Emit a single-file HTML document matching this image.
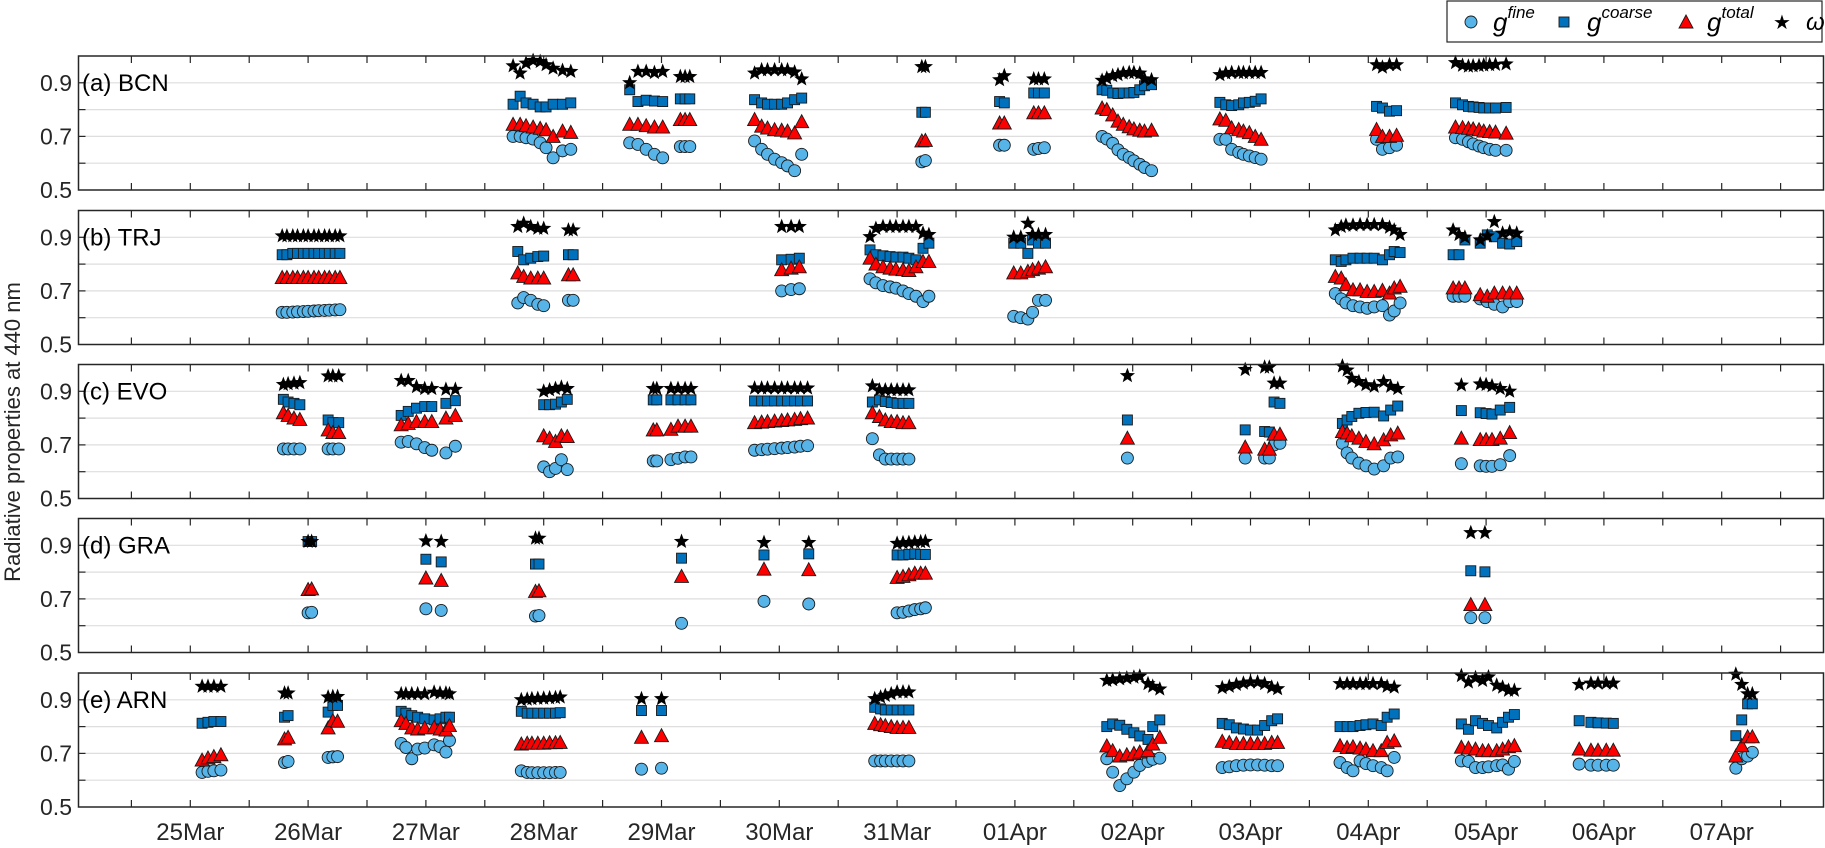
<!DOCTYPE html>
<html><head><meta charset="utf-8"><style>
html,body{margin:0;padding:0;background:#fff;}
svg{display:block;font-family:"Liberation Sans",Arial,sans-serif;}
</style></head><body>
<svg id="chart" width="1825" height="848" viewBox="0 0 1825 848" xmlns="http://www.w3.org/2000/svg">
<text transform="translate(20,432) rotate(-90)" text-anchor="middle" font-size="22" fill="#262626">Radiative properties at 440 nm</text>
<g id="legend">
<rect x="1447" y="1" width="375" height="41" fill="#fff" stroke="#262626" stroke-width="1.2"/>
<g>
<circle cx="1471" cy="22" r="6" fill="#56B4E9" stroke="#1a1a1a" stroke-width="0.9"/>
<text x="1493" y="31" font-size="26" font-style="italic" fill="#000">g<tspan font-size="17" dy="-13">fine</tspan></text></g>
<g>
<rect x="1559" y="17" width="10" height="10" fill="#0072BD" stroke="#1a1a1a" stroke-width="0.9"/>
<text x="1587" y="31" font-size="26" font-style="italic" fill="#000">g<tspan font-size="17" dy="-13">coarse</tspan></text></g>
<g>
<polygon points="1686,15 1693,28 1679,28" fill="#FF0000" stroke="#1a1a1a" stroke-width="0.9"/>
<text x="1707" y="31" font-size="26" font-style="italic" fill="#000">g<tspan font-size="17" dy="-13">total</tspan></text></g>
<g>
<text x="1782" y="29" font-size="20" text-anchor="middle" fill="#000">★</text>
<text x="1806" y="30" font-size="24" font-style="italic" fill="#000">ω</text></g>
</g>
</svg>
<script>
// ---- data: days since 25 Mar (00 = 25Mar tick) ----
const dateLabels=["25Mar","26Mar","27Mar","28Mar","29Mar","30Mar","31Mar","01Apr","02Apr","03Apr","04Apr","05Apr","06Apr","07Apr"];
const yTickLabels=["0.5","0.7","0.9"];
const panelNames=["(a) BCN","(b) TRJ","(c) EVO","(d) GRA","(e) ARN"];

const bcnDays=[2.74,2.80,2.85,2.91,2.97,3.02,3.08,3.16,3.23, 3.73,3.8,3.87,3.94,4.01, 4.16,4.2,4.24, 4.79,4.85,4.90,4.96,5.02,5.07,5.13,5.19, 6.21,6.24, 6.87,6.91, 7.16,7.2,7.25, 7.74,7.78,7.83,7.875,7.92,7.97,8.01,8.06,8.10,8.16, 8.74,8.79,8.84,8.9,8.94,8.99,9.04,9.09, 10.07,10.12,10.18,10.24, 10.74,10.80,10.85,10.89,10.94,10.98,11.03,11.08,11.17];
const bcnFine=[.70,.70,.695,.69,.676,.658,.62,.646,.652, .676,.67,.652,.633,.62, .662,.662,.662, .683,.652,.633,.615,.602,.59,.572,.633, .605,.61, .667,.667, .652,.655,.658, .70,.69,.674,.65,.633,.621,.609,.596,.584,.572, .689,.689,.652,.64,.633,.627,.621,.615, .689,.652,.658,.667, .695,.689,.68,.672,.664,.658,.652,.648,.648];
const bcnCoarse=[.82,.85,.825,.82,.81,.81,.82,.82,.825, .874,.83,.835,.832,.83, .84,.84,.84, .837,.825,.82,.82,.82,.825,.837,.843, .79,.79, .83,.825, .862,.862,.862, .874,.872,.862,.86,.862,.862,.864,.874,.889,.893, .827,.818,.815,.818,.825,.827,.831,.84, .812,.806,.794,.796, .825,.818,.812,.81,.808,.806,.806,.806,.808];
const bcnTotal=[.745,.745,.74,.735,.73,.725,.70,.72,.715, .745,.745,.74,.735,.735, .763,.763,.763, .763,.738,.731,.725,.723,.72,.713,.755, .683,.685, .75,.75, .788,.788,.788, .806,.80,.78,.757,.745,.736,.728,.723,.72,.723, .765,.76,.732,.726,.72,.714,.70,.689, .726,.70,.70,.704, .735,.733,.73,.728,.725,.72,.718,.716,.712];
const bcnOmega=[.963,.936,.973,.983,.979,.967,.954,.946,.942, .90,.942,.942,.938,.942, .923,.923,.923, .936,.948,.948,.948,.948,.948,.94,.914, .96,.96, .911,.926, .914,.914,.914, .909,.917,.926,.93,.936,.938,.938,.936,.914,.911, .93,.936,.938,.938,.938,.938,.938,.938, .967,.958,.967,.967, .975,.965,.962,.963,.964,.966,.967,.968,.97];

const trjDays=[0.78,0.82,0.87,0.91,0.96,1.0,1.05,1.09,1.14,1.18,1.23,1.27, 2.78,2.83,2.89,2.95,3.0, 3.21,3.25, 5.02,5.1,5.17, 5.77,5.82,5.88,5.94,5.99,6.05,6.10,6.16,6.22,6.27, 6.99,7.05,7.11,7.15,7.2,7.26, 9.72,9.77,9.81,9.87,9.93,9.99,10.05,10.12,10.18,10.22,10.27, 10.72,10.77,10.82,10.95,11.01,11.07,11.14,11.2,11.26];
const trjFine=[.62,.62,.621,.622,.623,.624,.625,.626,.627,.628,.629,.63, .655,.675,.665,.65,.645, .665,.665, .70,.705,.708, .745,.73,.72,.715,.71,.70,.69,.68,.66,.68, .605,.60,.595,.62,.665,.665, .69,.67,.655,.645,.64,.635,.64,.645,.61,.625,.655, .68,.68,.68,.67,.66,.65,.64,.66,.66];
const trjCoarse=[.835,.835,.84,.84,.84,.84,.84,.84,.84,.84,.84,.84, .847,.816,.822,.828,.83, .835,.835, .816,.818,.822, .853,.835,.831,.828,.826,.826,.822,.816,.859,.878, .878,.878,.84,.89,.878,.878, .816,.81,.816,.822,.822,.822,.822,.816,.835,.847,.843, .835,.835,.89,.878,.909,.902,.878,.875,.884];
const trjTotal=[.75,.75,.75,.75,.75,.75,.75,.75,.75,.75,.75,.75, .767,.754,.748,.748,.748, .76,.76, .779,.785,.79, .822,.80,.79,.785,.781,.779,.776,.79,.81,.81, .767,.767,.773,.779,.785,.79, .754,.748,.723,.704,.704,.698,.698,.702,.692,.711,.717, .711,.711,.711,.686,.68,.692,.692,.692,.692];
const trjOmega=[.905,.905,.905,.905,.905,.905,.905,.905,.905,.905,.905,.905, .94,.952,.94,.933,.933, .927,.927, .94,.94,.94, .902,.933,.94,.94,.94,.94,.94,.94,.915,.91, .90,.90,.952,.91,.91,.91, .927,.94,.945,.945,.947,.947,.947,.947,.937,.927,.91, .927,.91,.90,.89,.905,.958,.915,.92,.915];

const evoDays=[0.79,0.83,0.88,0.93, 1.17,1.21,1.26, 1.79,1.85,1.92,1.99,2.05, 2.17,2.25, 3.0,3.05,3.1,3.15,3.2, 3.93,3.96, 4.08,4.14,4.2,4.25, 4.79,4.85,4.9,4.96,5.02,5.07,5.13,5.18,5.24, 5.79,5.85,5.9,5.95,6.0,6.05,6.1, 7.955, 8.955, 9.12,9.16,9.2,9.25, 9.78,9.82,9.86,9.92,9.98,10.05,10.13,10.19,10.25, 10.79, 10.95,11.0,11.05,11.12,11.2];
const evoFine=[.685,.685,.685,.685, .685,.685,.685, .71,.713,.704,.69,.68, .67,.695, .618,.60,.612,.645,.608, .64,.64, .645,.65,.655,.655, .68,.682,.684,.686,.688,.69,.692,.695,.697, .723,.663,.647,.647,.647,.647,.647, .651, .651, .651,.651,.70,.706, .706,.67,.651,.632,.622,.61,.622,.651,.655, .63, .622,.62,.62,.626,.66];
const evoCoarse=[.87,.86,.855,.85, .793,.783,.783, .81,.825,.837,.843,.843, .855,.865, .85,.85,.852,.86,.87, .868,.868, .868,.868,.868,.868, .864,.864,.864,.864,.864,.864,.864,.864,.864, .86,.868,.862,.858,.855,.855,.855, .793, .756, .75,.748,.86,.855, .78,.793,.806,.818,.821,.822,.808,.83,.845, .828, .82,.817,.815,.83,.84];
const evoTotal=[.82,.81,.80,.795, .756,.746,.746, .775,.78,.787,.787,.787, .80,.81, .734,.725,.713,.734,.731, .756,.756, .758,.77,.77,.77, .783,.785,.787,.789,.791,.793,.795,.798,.80, .82,.806,.793,.787,.787,.783,.783, .725, .692, .684,.684,.74,.74, .75,.744,.734,.725,.713,.704,.719,.737,.744, .725, .72,.72,.72,.725,.746];
const evoOmega=[.925,.928,.93,.932, .957,.957,.957, .94,.94,.917,.91,.91, .907,.907, .90,.905,.91,.915,.91, .91,.91, .91,.91,.91,.91, .912,.912,.912,.912,.912,.912,.912,.912,.912, .92,.905,.905,.905,.905,.905,.905, .958, .981, .99,.99,.93,.93, .994,.979,.948,.936,.924,.918,.936,.918,.91, .923, .927,.925,.92,.91,.90];

const graDays=[1.0,1.03, 2.0, 2.13, 2.93,2.96, 4.17, 4.87, 5.25, 6.0,6.05,6.1,6.15,6.2,6.24, 10.87,10.99];
const graFine=[.648,.65, .663, .657, .636,.638, .609, .691, .681, .648,.65,.655,.66,.663,.667, .63,.63];
const graCoarse=[.914,.914, .848, .838, .83,.83, .852, .864, .868, .864,.864,.866,.868,.866,.866, .805,.801];
const graTotal=[.735,.737, .778, .769, .728,.73, .784, .811, .809, .78,.784,.79,.796,.796,.796, .679,.679];
const graOmega=[.914,.914, .916, .914, .926,.926, .914, .91, .91, .907,.909,.91,.912,.913,.914, .947,.947];

const arnDays=[0.1,0.15,0.2,0.26, 0.8,0.83, 1.17,1.21,1.25, 1.79,1.83,1.88,1.93,1.99,2.07,2.12,2.17,2.2, 2.81,2.86,2.9,2.95,3.0,3.05,3.1,3.14, 3.83, 4.0, 5.81,5.86,5.9,5.95,6.0,6.05,6.1, 7.78,7.83,7.89,7.95,8.01,8.06,8.13,8.17,8.23, 8.76,8.82,8.88,8.94,9.0,9.06,9.12,9.18,9.23, 9.76,9.82,9.87,9.93,9.98,10.04,10.11,10.16,10.22, 10.79,10.85,10.91,10.97,11.02,11.09,11.14,11.19,11.24, 11.79, 11.89,11.95,12.02,12.08, 13.12,13.17,13.22,13.26];
const arnFine=[.629,.633,.635,.638, .666,.67, .685,.687,.688, .737,.722,.68,.716,.72,.732,.725,.705,.748, .635,.629,.628,.628,.628,.628,.629,.629, .641, .645, .672,.672,.672,.672,.672,.672,.672, .68,.63,.58,.605,.63,.655,.67,.678,.682, .647,.65,.654,.656,.657,.657,.656,.654,.654, .666,.647,.635,.672,.662,.654,.647,.635,.685, .672,.67,.647,.647,.65,.654,.657,.641,.67, .66, .656,.656,.656,.656, .645,.68,.69,.704];
const arnCoarse=[.8125,.816,.819,.819, .835,.841, .854,.879,.879, .857,.85,.841,.835,.829,.825,.829,.835,.835, .857,.85,.85,.85,.85,.85,.85,.852, .86, .86, .872,.866,.862,.862,.862,.862,.862, .80,.81,.805,.79,.777,.765,.752,.80,.825, .812,.807,.795,.791,.787,.787,.804,.822,.829, .80,.80,.80,.804,.807,.81,.804,.835,.847, .81,.79,.822,.812,.804,.795,.816,.835,.845, .822, .816,.814,.813,.812, .766,.825,.885,.885];
const arnTotal=[.675,.683,.688,.695, .754,.76, .795,.822,.82, .822,.812,.795,.791,.795,.797,.791,.787,.804, .735,.738,.738,.738,.738,.74,.74,.741, .76, .766, .812,.807,.804,.80,.797,.797,.797, .728,.71,.69,.695,.70,.705,.71,.735,.76, .745,.741,.737,.737,.737,.737,.737,.741,.741, .729,.722,.725,.72,.716,.71,.71,.741,.747, .723,.72,.716,.71,.71,.71,.716,.725,.729, .716, .712,.712,.712,.712, .69,.729,.762,.762];
const arnOmega=[.95,.95,.95,.95, .925,.925, .91,.912,.912, .922,.922,.922,.922,.922,.928,.925,.925,.922, .90,.902,.904,.905,.906,.907,.908,.91, .904, .904, .904,.91,.916,.922,.929,.929,.929, .972,.975,.978,.981,.984,.988,.96,.95,.94, .945,.95,.957,.962,.966,.966,.96,.947,.941, .96,.96,.96,.96,.96,.96,.96,.95,.947, .99,.966,.982,.972,.985,.954,.947,.935,.935, .957, .962,.962,.962,.962, .995,.957,.922,.922];

const panels=[
 {key:"bcn",d:bcnDays,f:bcnFine,c:bcnCoarse,t:bcnTotal,o:bcnOmega},
 {key:"trj",d:trjDays,f:trjFine,c:trjCoarse,t:trjTotal,o:trjOmega},
 {key:"evo",d:evoDays,f:evoFine,c:evoCoarse,t:evoTotal,o:evoOmega},
 {key:"gra",d:graDays,f:graFine,c:graCoarse,t:graTotal,o:graOmega},
 {key:"arn",d:arnDays,f:arnFine,c:arnCoarse,t:arnTotal,o:arnOmega}
];

// ---- layout ----
const NS="http://www.w3.org/2000/svg";
const svg=document.getElementById('chart');
const L=78.5,R=1823.5,H=134;
const tops=[56,210.5,364.5,518.5,673];
const X0=190.3,DX=117.8, YMIN=0.5,YMAX=1.0;
function xScale(d){return X0+d*DX;}
function yScale(v,top){return top+H-(v-YMIN)/(YMAX-YMIN)*H;}
function el(tag,attrs,parent){const e=document.createElementNS(NS,tag);for(const k in attrs)e.setAttribute(k,attrs[k]);(parent||svg).appendChild(e);return e;}
function starPts(cx,cy,ro){let p=[];for(let i=0;i<10;i++){const r=i%2?ro*0.42:ro;const a=-Math.PI/2+i*Math.PI/5;p.push((cx+r*Math.cos(a)).toFixed(1)+","+(cy+r*Math.sin(a)).toFixed(1));}return p.join(" ");}

panels.forEach((p,pi)=>{
 const top=tops[pi];
 const g=el('g',{});
 
 
 // grid
 [0.6,0.7,0.8,0.9].forEach(v=>{
  const ln=el('line',{x1:L,x2:R,y1:yScale(v,top),y2:yScale(v,top),stroke:'#dedede','stroke-width':1.2},g);
  
  
 });
 // x ticks every half day
 for(let k=-1;k<=27;k++){
  const x=xScale(k/2); if(x<=L+1||x>=R-1)continue;
  el('line',{x1:x,x2:x,y1:top,y2:top+7,stroke:'#262626','stroke-width':1.2},g);
  el('line',{x1:x,x2:x,y1:top+H,y2:top+H-7,stroke:'#262626','stroke-width':1.2},g);
 }
 // y ticks
 [0.6,0.7,0.8,0.9].forEach(v=>{
  const y=yScale(v,top);
  el('line',{x1:L,x2:L+7,y1:y,y2:y,stroke:'#262626','stroke-width':1.2},g);
  el('line',{x1:R,x2:R-7,y1:y,y2:y,stroke:'#262626','stroke-width':1.2},g);
 });
 yTickLabels.forEach(s=>{
  const t=el('text',{x:72,y:yScale(parseFloat(s),top)+8,'text-anchor':'end','font-size':23,fill:'#262626'},g);
  t.textContent=s;
  
  
 });
 // markers
 const series=[['fine',p.f],['coarse',p.c],['total',p.t],['omega',p.o]];
 series.forEach(([nm,vals])=>{
  const sg=el('g',{},g);
  
  
  vals.forEach((v,i)=>{
   const x=xScale(p.d[i]),y=yScale(v,top);let m;
   if(nm==='fine') m=el('circle',{cx:x,cy:y,r:6,fill:'#56B4E9',stroke:'#1a1a1a','stroke-width':0.9},sg);
   else if(nm==='coarse') m=el('rect',{x:x-5,y:y-5,width:10,height:10,fill:'#0072BD',stroke:'#1a1a1a','stroke-width':0.9},sg);
   else if(nm==='total') m=el('polygon',{points:`${x},${y-7} ${x+7},${y+6} ${x-7},${y+6}`,fill:'#FF0000',stroke:'#1a1a1a','stroke-width':0.9},sg);
   else m=el('polygon',{points:starPts(x,y,8),fill:'#000'},sg);
   
   
  });
 });
 // frame
 const fr=el('rect',{x:L,y:top,width:R-L,height:H,fill:'none',stroke:'#262626','stroke-width':1.5},g);
 
 
 const lb=el('text',{x:82,y:top+35,'font-size':24,fill:'#000'},g);
 lb.textContent=panelNames[pi];
 
 
});
dateLabels.forEach((s,i)=>{
 const t=el('text',{x:xScale(i),y:840,'text-anchor':'middle','font-size':24,fill:'#262626'});
 t.textContent=s;
 
 
});
svg.appendChild(document.getElementById('legend'));
</script>
</body></html>
